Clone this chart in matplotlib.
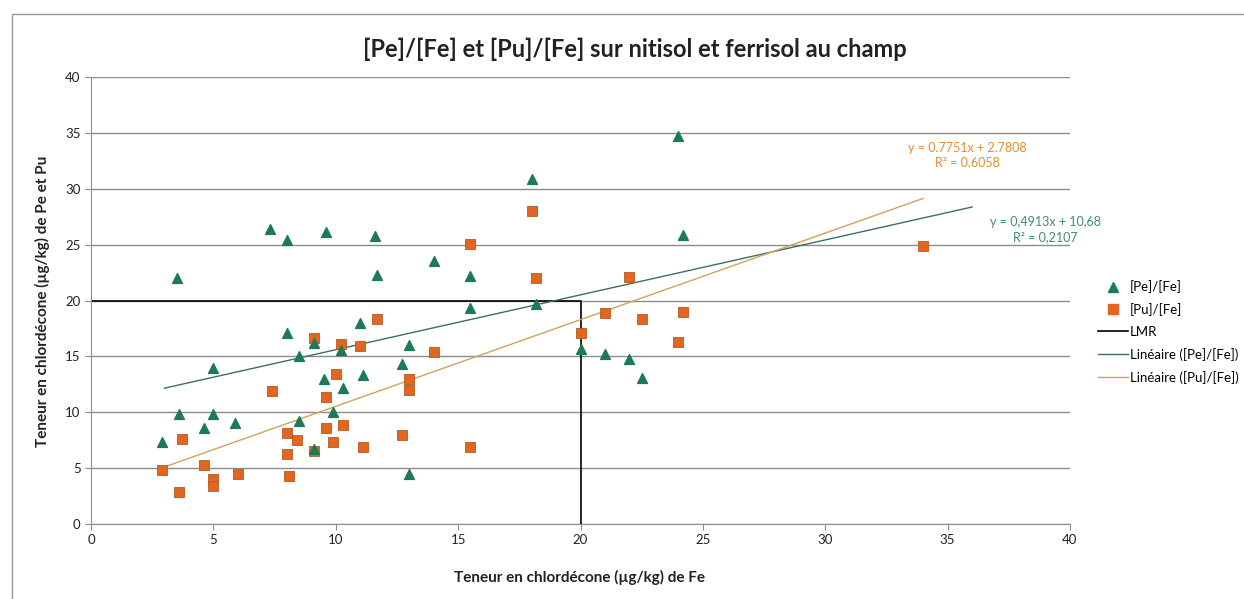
#!/usr/bin/env python3
import numpy as np
import matplotlib
matplotlib.use('Agg')
import matplotlib.pyplot as plt
from matplotlib.lines import Line2D
from matplotlib.patches import Rectangle

plt.rcParams['font.family'] = ['Lato', 'DejaVu Sans']

# [Pe]/[Fe] points (Fe, Pe)
pe_x = [2.9, 3.5, 3.6, 4.6, 5.0, 5.0, 5.9, 7.3, 8.0, 8.0, 8.5, 8.5, 9.1, 9.1, 9.5,
        9.6, 9.9, 10.2, 10.3, 11.0, 11.1, 11.6, 11.7, 12.7, 13.0, 13.0, 14.0,
        15.5, 15.5, 18.0, 18.2, 20.0, 21.0, 22.0, 22.5, 24.0, 24.2]
pe_y = [7.3, 22.0, 9.8, 8.6, 14.0, 9.8, 9.0, 26.4, 25.4, 17.1, 15.0, 9.2, 16.2, 6.7, 13.0,
        26.1, 10.0, 15.6, 12.2, 18.0, 13.3, 25.8, 22.3, 14.3, 16.0, 4.5, 23.5,
        22.2, 19.3, 30.9, 19.7, 15.7, 15.2, 14.8, 13.1, 34.7, 25.9]

# [Pu]/[Fe] points (Fe, Pu)
pu_x = [2.9, 3.6, 3.7, 4.6, 5.0, 5.0, 6.0, 7.4, 8.0, 8.0, 8.1, 8.4, 9.1, 9.1, 9.6,
        9.6, 9.9, 10.0, 10.2, 10.3, 11.0, 11.1, 11.7, 12.7, 13.0, 13.0, 14.0,
        15.5, 15.5, 18.0, 18.2, 20.0, 21.0, 22.0, 22.5, 24.0, 24.2, 34.0]
pu_y = [4.8, 2.9, 7.6, 5.3, 4.0, 3.4, 4.5, 11.9, 8.1, 6.3, 4.3, 7.5, 16.6, 6.5, 11.4,
        8.6, 7.3, 13.4, 16.1, 8.9, 15.9, 6.9, 18.3, 8.0, 13.0, 12.0, 15.4,
        25.1, 6.9, 28.0, 22.0, 17.1, 18.9, 22.1, 18.3, 16.3, 19.0, 24.9]

# LMR limit (path through the plot)
lmr_x = [0, 20, 20]
lmr_y = [20, 20, 0]

# trend lines from the chart labels
pe_slope, pe_icpt, pe_r2 = 0.4913, 10.68, 0.2107
pu_slope, pu_icpt, pu_r2 = 0.7751, 2.7808, 0.6058
pe_range = [3, 36]
pu_range = [3, 34]

green = '#1d7a55'
orange = '#e2661f'
pe_line_col = '#3f6e60'
pu_line_col = '#cfa35e'

fig = plt.figure(figsize=(12.44, 5.99), dpi=100)
fig.add_artist(Rectangle((12 / 1244, -0.1), 1.5, (599 - 14) / 599 + 0.1,
                         transform=fig.transFigure, fill=False,
                         edgecolor='#999999', linewidth=1.0))
ax = fig.add_axes([91 / 1244, 75 / 599, 979 / 1244, 447 / 599])

ax.set_xlim(0, 40)
ax.set_ylim(0, 40)
ax.set_xticks(np.arange(0, 41, 5))
ax.set_yticks(np.arange(0, 41, 5))
ax.yaxis.grid(True, color='#8c8c8c', linewidth=1.0)
ax.set_axisbelow(True)
for side in ['top', 'right']:
    ax.spines[side].set_visible(False)
for side in ['left', 'bottom']:
    ax.spines[side].set_color('#8c8c8c')
ax.tick_params(colors='#8c8c8c', labelcolor='#222222', labelsize=9.5, length=4)

ax.scatter(pe_x, pe_y, marker='^', s=50, color=green, edgecolors=green, zorder=4)
ax.scatter(pu_x, pu_y, marker='s', s=60, color=orange, edgecolors='#b55a20',
           linewidths=0.6, zorder=3)

ax.plot(lmr_x, lmr_y, color='black', linewidth=1.2, zorder=2)

xs = np.array(pe_range)
ax.plot(xs, pe_slope * xs + pe_icpt, color=pe_line_col, linewidth=1.0, zorder=2)
xs = np.array(pu_range)
ax.plot(xs, pu_slope * xs + pu_icpt, color=pu_line_col, linewidth=1.0, zorder=2)

# trend equations
ax.text(35.8, 33.0, 'y = 0.7751x + 2.7808\nR² = 0.6058', color='#e0902a',
        fontsize=9, ha='center', va='center', linespacing=1.3)
ax.text(39.0, 26.35, 'y = 0,4913x + 10,68\nR² = 0,2107', color='#3f8f72',
        fontsize=9, ha='center', va='center', linespacing=1.3)

fig.text(635 / 1244, 1 - 49 / 599, '[Pe]/[Fe] et [Pu]/[Fe] sur nitisol et ferrisol au champ',
         fontsize=17, fontweight='bold', ha='center', va='center', color='#222222')
fig.text(580 / 1244, 1 - 577 / 599, 'Teneur en chlordécone (µg/kg) de Fe',
         fontsize=11, fontweight='bold', ha='center', va='center', color='#222222')
fig.text(42 / 1244, 1 - 301 / 599, 'Teneur en chlordécone (µg/kg) de Pe et Pu',
         fontsize=11, fontweight='bold', ha='center', va='center', rotation=90, color='#222222')

handles = [
    Line2D([], [], marker='^', linestyle='none', color=green, markersize=7),
    Line2D([], [], marker='s', linestyle='none', color=orange, markersize=7),
    Line2D([], [], color='black', linewidth=1.2),
    Line2D([], [], color=pe_line_col, linewidth=1.0),
    Line2D([], [], color=pu_line_col, linewidth=1.0),
]
labels = ['[Pe]/[Fe]', '[Pu]/[Fe]', 'LMR', 'Linéaire ([Pe]/[Fe])', 'Linéaire ([Pu]/[Fe])']
fig.legend(handles, labels, loc='center left', bbox_to_anchor=(1098 / 1244, 1 - 332 / 599),
           frameon=False, fontsize=9.5, handlelength=2.3, handletextpad=0.1,
           labelspacing=0.75, borderaxespad=0, borderpad=0)

fig.savefig('out.png', dpi=100)
